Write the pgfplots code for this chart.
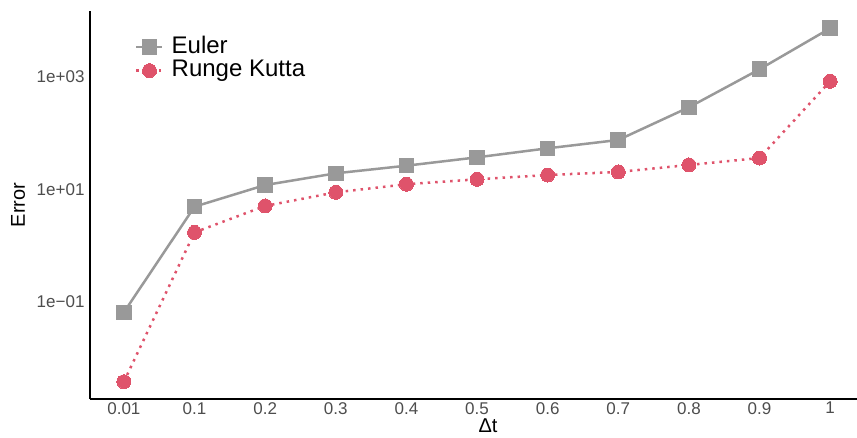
\documentclass[border=0pt]{standalone}
\usepackage{fontspec}
\setmainfont{Liberation Sans}
\usepackage{pgfplots}
\pgfplotsset{compat=1.18}
\definecolor{eulergray}{HTML}{999999}
\definecolor{rkred}{HTML}{DF536B}
\definecolor{ticktext}{HTML}{4D4D4D}
\begin{document}
\begin{tikzpicture}
\begin{axis}[
  name=ax,
  scale only axis,
  width=767pt, height=388pt,
  xmin=-0.48, xmax=10.38,
  ymode=log,
  ymin=0.001888, ymax=14894,
  axis x line=bottom, axis y line=left,
  axis line style={-, line width=1.4pt, black},
  xtick={0,1,2,3,4,5,6,7,8,9,10},
  xticklabels={0.01,0.1,0.2,0.3,0.4,0.5,0.6,0.7,0.8,0.9,1},
  ytick={0.1,10,1000},
  yticklabels={1e−01,1e+01,1e+03},
  major tick length=0pt, minor tick length=0pt,
  minor y tick num=0,
  tick label style={font=\fontsize{17}{19}\selectfont, text=ticktext},
  xticklabel style={yshift=-2pt, inner ysep=1pt},
  yticklabel style={xshift=-2pt},
  xlabel={Δt},
  ylabel={Error},
  label style={font=\fontsize{20}{22}\selectfont},
  xlabel style={at={(axis description cs:0.519,-0.069)}, anchor=center, inner sep=0pt},
  ylabel style={at={(axis description cs:-0.0939,0.5)}, anchor=center},
  legend style={at={(axis description cs:0.0587,0.935)}, anchor=north west,
    draw=none, fill=none, font=\fontsize{24}{26}\selectfont,
    row sep=2pt, inner sep=0pt,
    nodes={inner xsep=2pt, inner ysep=0pt, text height=17pt, text depth=4.5pt},
    /tikz/every odd column/.append style={column sep=6pt}},
  legend cell align=left,
  legend image code/.code={\draw[mark repeat=2,mark phase=2] plot coordinates {(0pt,0pt)(13pt,0pt)(26pt,0pt)};},
]
\addplot[color=eulergray, line width=2.5pt, mark=square*, mark size=7.3pt,
  mark options={solid, fill=eulergray, draw=eulergray, line width=0pt}]
  coordinates {(0,0.0656)(1,4.95)(2,12.0)(3,19.4)(4,26.5)(5,37.3)(6,54)(7,75.9)(8,289)(9,1371)(10,7345)};
\addlegendentry{Euler}
\addplot[color=rkred, line width=2.5pt, dash pattern=on 2.5pt off 5pt, mark=*, mark size=7pt,
  mark options={solid, fill=rkred, draw=rkred, line width=0pt}]
  coordinates {(0,0.00383)(1,1.73)(2,5.1)(3,8.9)(4,12.4)(5,15.2)(6,18.1)(7,20.5)(8,27.3)(9,36.3)(10,839)};
\addlegendentry{Runge Kutta}
\end{axis}
\pgfresetboundingbox
\path ([shift={(-90pt,-38pt)}]ax.south west) rectangle ([shift={(0pt,11pt)}]ax.north east);
\end{tikzpicture}
\end{document}
